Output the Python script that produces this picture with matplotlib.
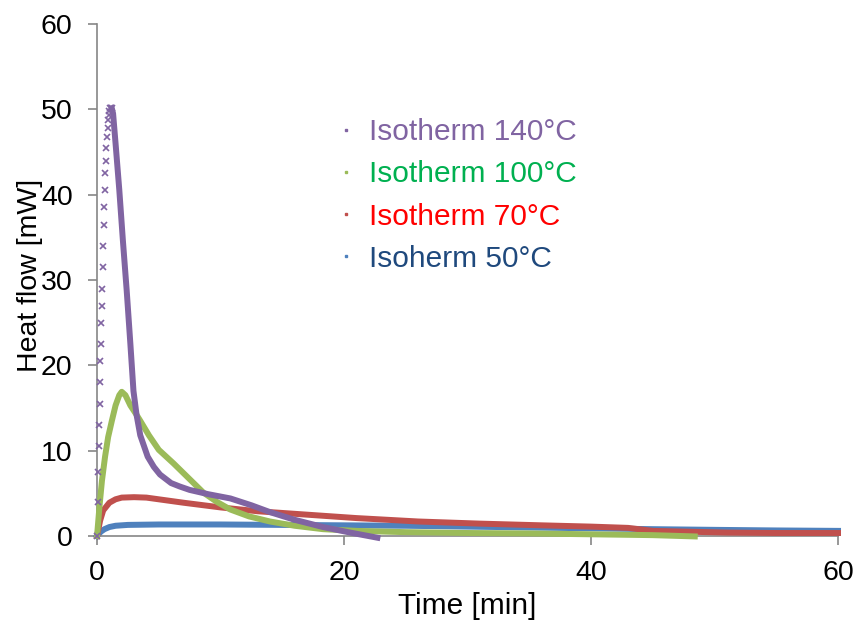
import matplotlib.pyplot as plt

# Isotherm 140 °C: rise (sampled points, drawn as x markers) then decay
t140_rise = [0.0, 0.04, 0.08, 0.12, 0.16, 0.2, 0.24, 0.28, 0.32, 0.36, 0.4, 0.44,
             0.48, 0.52, 0.56, 0.6, 0.64, 0.68, 0.72, 0.76, 0.8, 0.85, 0.9, 0.95,
             1.0, 1.05, 1.1, 1.15, 1.2]
q140_rise = [0, 4, 7.5, 10.5, 13, 15.5, 18, 20.5, 22.5, 25, 27, 29, 31.5, 34,
             36.5, 38.5, 40.5, 42.5, 44, 45.5, 46.8, 47.8, 48.7, 49.3, 49.8,
             50.1, 50.2, 50.2, 50.1]
t140 = [1.2, 1.3, 1.5, 1.8, 2.1, 2.4, 2.7, 2.95, 3.2, 3.5, 4.1, 4.6, 5.1, 6.0,
        6.7, 7.5, 9.0, 10.8, 12.5, 14.0, 16.0, 18.3, 20.5, 22.7]
q140 = [50.1, 49.5, 46, 40.6, 34.5, 28.8, 22.5, 17, 14.2, 11.8, 9.3, 8.1, 7.2,
        6.2, 5.8, 5.4, 4.9, 4.4, 3.6, 2.8, 1.9, 1.05, 0.4, -0.2]

t100 = [0, 0.2, 0.4, 0.65, 0.9, 1.2, 1.5, 1.8, 2.0, 2.3, 2.7, 3.2, 3.5, 4.2,
        5.0, 6.2, 7.4, 8.6, 9.7, 10.8, 12.3, 14, 16, 18.3, 21, 25, 30, 35, 40,
        45, 48.4]
q100 = [0, 3.5, 6.5, 9.3, 11.6, 13.5, 15.3, 16.5, 16.9, 16.5, 15.3, 14.2, 13.5,
        11.8, 10.1, 8.5, 6.8, 5.1, 4.0, 3.1, 2.3, 1.7, 1.2, 0.8, 0.6, 0.45,
        0.35, 0.3, 0.2, 0.1, -0.05]

t70 = [0, 0.25, 0.5, 1.0, 1.5, 2.0, 3.0, 4.0, 5.0, 7, 10, 13, 16, 21, 26, 31,
       36, 40, 43, 45, 48, 51, 55, 60]
q70 = [0, 1.8, 3.0, 3.9, 4.3, 4.5, 4.55, 4.5, 4.3, 3.9, 3.35, 2.9, 2.6, 2.1,
       1.7, 1.45, 1.25, 1.1, 0.95, 0.6, 0.5, 0.4, 0.35, 0.35]

t50 = [0, 0.3, 0.6, 1.0, 1.5, 2.5, 5, 10, 15, 20, 25, 30, 35, 40, 45, 50, 55, 60]
q50 = [0, 0.5, 0.8, 1.05, 1.2, 1.3, 1.35, 1.35, 1.3, 1.25, 1.2, 1.1, 1.0, 0.9,
       0.8, 0.72, 0.65, 0.6]

labels = ["Isotherm 140°C", "Isotherm 100°C", "Isotherm 70°C", "Isoherm 50°C"]
line_colors = ["#8064A2", "#9BBB59", "#C0504D", "#4F81BD"]
text_colors = ["#8064A2", "#00B050", "#FF0000", "#1F497D"]

plt.rcParams["font.family"] = ["Liberation Sans", "DejaVu Sans"]

fig = plt.figure(figsize=(8.61, 6.28), dpi=100)
ax = fig.add_axes([0.1127, 0.1465, 0.8606, 0.8153])

lw = 4.3
ax.plot(t50, q50, color=line_colors[3], lw=lw, clip_on=False, zorder=2)
ax.plot(t70, q70, color=line_colors[2], lw=lw, clip_on=False, zorder=3)
ax.plot(t100, q100, color=line_colors[1], lw=lw, clip_on=False, zorder=4)
ax.plot(t140_rise, q140_rise, color=line_colors[0], lw=0, marker="x",
        ms=4, mew=1.2, clip_on=False, zorder=5)
ax.plot(t140, q140, color=line_colors[0], lw=lw, clip_on=False, zorder=5)

# legend: tiny marker + coloured text
handles = [plt.Line2D([], [], lw=0, marker="s", ms=2, color=c) for c in line_colors]
ax.legend(handles, labels, loc="upper left", bbox_to_anchor=(0.287, 0.868),
          frameon=False, fontsize=21.5, labelcolor=text_colors,
          handlelength=0.6, handletextpad=0.5, labelspacing=0.47)

ax.set_xlim(0, 60)
ax.set_ylim(0, 60)
ax.set_xticks([0, 20, 40, 60])
ax.set_yticks(range(0, 61, 10))
ax.tick_params(labelsize=20.5, direction="out", length=6.5, color="#868686",
               width=1.2, pad=11)
for side in ["top", "right"]:
    ax.spines[side].set_visible(False)
for side in ["left", "bottom"]:
    ax.spines[side].set_color("#868686")
    ax.spines[side].set_linewidth(1.2)

ax.set_xlabel("Time [min]", fontsize=21.5, labelpad=4)
fig.text(30 / 861, 1 - 275 / 628, "Heat flow [mW]", rotation=90,
         ha="center", va="center", fontsize=20.5)

fig.savefig("out.png", dpi=100)
